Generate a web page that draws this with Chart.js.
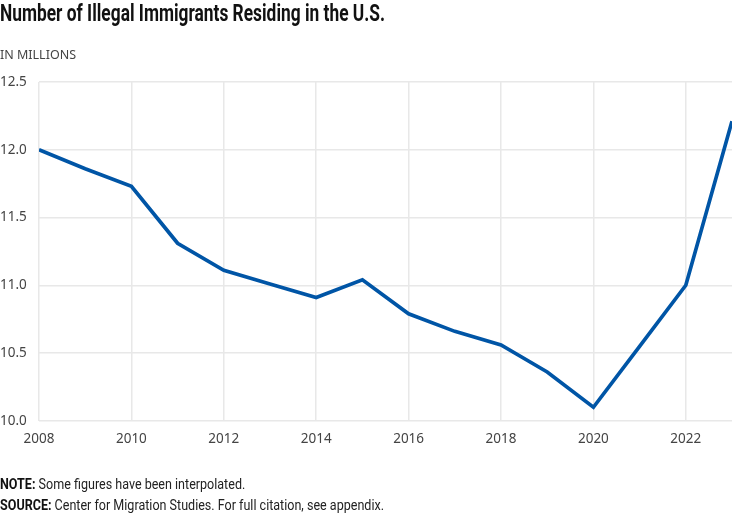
<html lang="en">
<head>
    <meta charset="UTF-8">
    <title>Illegal Immigrants Residing in the U.S.</title>
    <script src="https://cdn.jsdelivr.net/npm/chart.js"></script>
    <style>
        body {
            margin: 0;
            padding: 0;
            background: #fff;
            width: 734px;
            height: 513px;
            position: relative;
            overflow: hidden;
            font-family: 'Noto Sans', sans-serif;
        }

        .title {
            position: absolute;
            left: 0;
            top: 0px;
            font-family: 'Roboto', sans-serif;
            font-weight: bold;
            font-size: 23px;
            color: #111;
            white-space: nowrap;
            transform-origin: 0 0;
        }

        .subtitle {
            position: absolute;
            left: 0;
            top: 46px;
            font-size: 12.5px;
            color: #444;
        }

        .chart-box {
            position: absolute;
            left: 0;
            top: 0;
            width: 734px;
            height: 513px;
        }

        .notes {
            position: absolute;
            left: 0;
            top: 474px;
            font-family: 'Roboto', sans-serif;
            font-size: 14px;
            color: #222;
            line-height: 21px;
            white-space: nowrap;
            transform-origin: 0 0;
        }

        .notes b {
            color: #111;
        }
    </style>
</head>
<body>
    <div class="chart-box">
        <canvas id="chart" width="734" height="513"></canvas>
    </div>
    <div class="title" id="title">Number of Illegal Immigrants Residing in the U.S.</div>
    <div class="subtitle">IN MILLIONS</div>
    <div class="notes" id="notes">
        <div><b>NOTE:</b> Some figures have been interpolated.</div>
        <div id="source"><b>SOURCE:</b> Center for Migration Studies. For full citation, see appendix.</div>
    </div>

    <script>
        // Years on the x axis
        const years = [2008, 2009, 2010, 2011, 2012, 2013, 2014, 2015, 2016, 2017, 2018, 2019, 2020, 2021, 2022, 2023];

        // Estimated residents, in millions
        const residents = [12.00, 11.86, 11.73, 11.31, 11.11, 11.01, 10.91, 11.04, 10.79, 10.66, 10.56, 10.36, 10.10, 10.55, 11.00, 12.21];

        // Axis ranges
        const yTicks = [10.0, 10.5, 11.0, 11.5, 12.0, 12.5];
        const xTicks = [2008, 2010, 2012, 2014, 2016, 2018, 2020, 2022];

        // squeeze the condensed-looking texts to the reference widths
        function squeeze(el, inner, target) {
            const w = inner.getBoundingClientRect().width;
            if (w > 0) el.style.transform = 'scaleX(' + (target / w) + ')';
        }
        const titleEl = document.getElementById('title');
        titleEl.style.display = 'inline-block';
        squeeze(titleEl, titleEl, 385);
        const notesEl = document.getElementById('notes');
        const src = document.getElementById('source');
        src.style.display = 'inline-block';
        squeeze(notesEl, src, 384);

        const points = years.map((y, i) => ({ x: y, y: residents[i] }));

        const ctx = document.getElementById('chart').getContext('2d');
        new Chart(ctx, {
            type: 'line',
            data: {
                datasets: [{
                    data: points,
                    borderColor: '#0055a6',
                    borderWidth: 3.7,
                    pointRadius: 0,
                    tension: 0,
                    fill: false
                }]
            },
            options: {
                responsive: false,
                animation: false,
                layout: {
                    padding: { top: 82, right: 2, bottom: 56, left: 0 }
                },
                plugins: {
                    legend: { display: false },
                    tooltip: { enabled: false }
                },
                scales: {
                    x: {
                        type: 'linear',
                        min: years[0],
                        max: years[years.length - 1],
                        afterBuildTicks: (scale) => {
                            scale.ticks = xTicks.map(v => ({ value: v }));
                        },
                        grid: { color: '#e8e8e8', lineWidth: 1.5, drawTicks: false },
                        border: { display: false },
                        ticks: {
                            padding: 10,
                            color: '#444',
                            font: { family: 'Noto Sans', size: 13.5 },
                            maxRotation: 0,
                            callback: (v) => String(v)
                        }
                    },
                    y: {
                        min: yTicks[0],
                        max: yTicks[yTicks.length - 1],
                        afterBuildTicks: (scale) => {
                            scale.ticks = yTicks.map(v => ({ value: v }));
                        },
                        afterFit: (scale) => { scale.width = 39; },
                        grid: { color: '#e8e8e8', lineWidth: 1.5, drawTicks: false },
                        border: { display: false },
                        ticks: {
                            crossAlign: 'far',
                            padding: 0,
                            color: '#444',
                            font: { family: 'Noto Sans', size: 13.5 },
                            callback: (v) => Number(v).toFixed(1)
                        }
                    }
                }
            }
        });
    </script>
</body>
</html>
